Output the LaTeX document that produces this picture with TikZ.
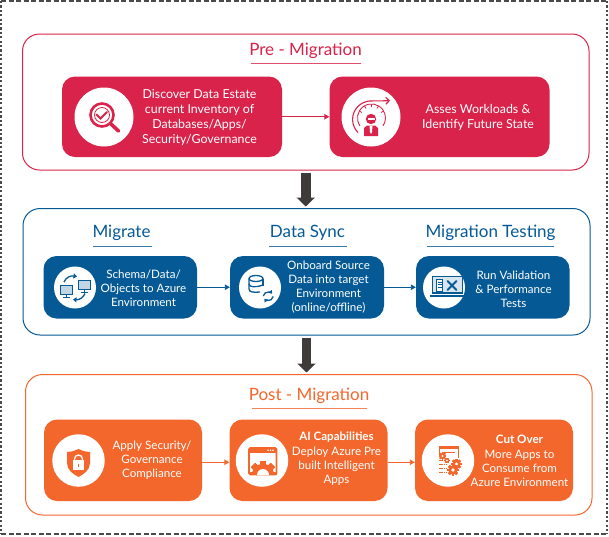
\documentclass[tikz,border=0pt]{standalone}
\usepackage{fontspec}
\setmainfont{Lato}
\usetikzlibrary{arrows.meta}
\definecolor{redc}{HTML}{D9234A}
\definecolor{bluec}{HTML}{055A96}
\definecolor{orangec}{HTML}{F4672C}
\definecolor{arrowc}{HTML}{403B3B}
\definecolor{dashc}{HTML}{4A4A4A}
\tikzset{
  stage/.style={draw=#1,line width=1pt,rounded corners=17pt,fill=white,inner sep=0pt},
  card/.style={fill=#1,rounded corners=13pt,inner sep=0pt},
  dot/.style={circle,fill=white,inner sep=0pt},
  cardtext/.style={text=white,align=center,inner sep=0pt,font=\fontsize{11.6}{14}\selectfont},
  heading/.style={text=#1,inner sep=0pt,font=\fontsize{17}{20}\selectfont},
  underl/.style={draw=#1!80,line width=1pt},
  link/.style={draw=#1,line width=0.9pt,-{Triangle[width=5.5pt,length=5pt]}},
  bigarrow/.style={draw=arrowc,line width=9.5pt,-{Triangle[width=18pt,length=9pt]},shorten <=2pt,shorten >=1.5pt},
}
\newcommand{\gearicon}[4]{%
  \foreach \a in {0,45,...,315}{\fill[#4,rotate around={\a:(#1,#2)}] (#1-#3*0.22,#2-#3) rectangle (#1+#3*0.22,#2+#3);}
  \fill[#4] (#1,#2) circle[radius=#3*0.8];
  \fill[white] (#1,#2) circle[radius=#3*0.32];
}
\begin{document}
\begin{tikzpicture}[x=1pt,y=-1pt]
\useasboundingbox (0,0) rectangle (609,536);

%outer dashed frame
\draw[dashc,line width=1.3pt,dash pattern=on 5pt off 2.5pt] (1,1) -- (607,1);
\draw[dashc,line width=1.3pt,dash pattern=on 5pt off 2.5pt] (1,534) -- (607,534);
\draw[dashc,line width=1.3pt,dash pattern=on 2.2pt off 2.2pt] (1,1) -- (1,534);
\draw[dashc,line width=1.3pt,dash pattern=on 2.2pt off 2.2pt] (607,1) -- (607,534);

%stage frames
\node[stage=redc,minimum width=566.5pt,minimum height=136pt] (pre) at (305.75,102) {};
\node[stage=bluec,minimum width=567pt,minimum height=126.5pt] (migrate) at (306.5,271.75) {};
\node[stage=orangec,minimum width=566.5pt,minimum height=140.5pt] (post) at (308.75,444.75) {};

%arrows between the stages
\draw[bigarrow] (pre.south) -- (pre.south |- migrate.north);
\draw[bigarrow] (migrate.south) -- (migrate.south |- post.north);

%Pre - Migration
\node[heading=redc] (preTitle) at (305.5,50.5) {Pre - Migration};
\draw[underl=redc] (251,63.5) -- (361,63.5);
\node[card=redc,minimum width=220pt,minimum height=80.5pt] (discover) at (172,116.75) {};
\node[card=redc,minimum width=220pt,minimum height=80.5pt] (assess) at (439.5,116.75) {};
\draw[link=redc] (discover) -- (assess);
\node[dot,minimum size=59pt] (discoverDot) at (104,117) {};
\node[dot,minimum size=59pt] (assessDot) at (371,117) {};
\node[cardtext,font=\fontsize{12.4}{15}\selectfont] (discoverText) at (199.5,117.5) {Discover Data Estate\\current Inventory of\\Databases/Apps/\\Security/Governance};
\node[cardtext,font=\fontsize{12.4}{15}\selectfont] (assessText) at (478,117.5) {Asses Workloads \&\\Identify Future State};
%magnifier
\draw[redc,line width=2.6pt] (102,115) circle[radius=11.5];
\draw[redc,line width=0.8pt] (102,115) circle[radius=7.5];
\draw[redc,line width=2pt,line cap=round] (96.5,114.5) -- (100.5,118.5) -- (107,112);
\draw[redc,line width=3.6pt,line cap=round] (111,124) -- (118.5,131);
%gauge and person
\draw[redc,line width=0.9pt] (360,126) arc (145:395:14);
\draw[redc,line width=1.1pt,-{Straight Barb[length=3.5pt,width=7pt]}] (358,132.5) arc (135:265:18.5) -- (390,100.7);
\foreach \a in {-150,-120,-90,-60,-30}{\draw[redc,line width=0.8pt] (371.5,118)++(\a:14) -- ++(\a:-3);}
\fill[redc] (371,119) circle[radius=5.2];
\fill[white] (367.5,118) rectangle (374.5,119.5);
\fill[redc] (364,136) -- (364,128) -- (367,125.5) -- (375,125.5) -- (378,128) -- (378,136) -- cycle;
\fill[white] (369.5,125.5) -- (372.5,125.5) -- (372,132) -- (371,134) -- (370,132) -- cycle;

%Migrate, Data Sync, Migration Testing
\node[heading=bluec] (migTitle) at (121.5,232.5) {Migrate};
\node[heading=bluec] (syncTitle) at (307.5,232.5) {Data Sync};
\node[heading=bluec] (testTitle) at (490.5,232.5) {Migration Testing};
\draw[underl=bluec] (93,246) -- (152,246);
\draw[underl=bluec] (269,246) -- (347,246);
\draw[underl=bluec] (427,246) -- (554,246);
\node[card=bluec,minimum width=153.5pt,minimum height=62.5pt] (schema) at (120.25,287.25) {};
\node[card=bluec,minimum width=154pt,minimum height=62.5pt] (onboard) at (307,287.25) {};
\node[card=bluec,minimum width=153.5pt,minimum height=62.5pt] (validate) at (492.75,287.25) {};
\draw[link=bluec] (schema) -- (onboard);
\draw[link=bluec] (onboard) -- (validate);
\node[dot,minimum size=42pt] (schemaDot) at (75,287.5) {};
\node[dot,minimum size=42pt] (onboardDot) at (260,287.5) {};
\node[dot,minimum size=42pt] (validateDot) at (444,287.5) {};
\node[cardtext] (schemaText) at (143.5,288.5) {Schema/Data/\\Objects to Azure\\Environment};
\node[cardtext] (onboardText) at (328.5,287.5) {Onboard Source\\Data into target\\Environment\\(online/offline)};
\node[cardtext] (validateText) at (513.5,289.5) {Run Validation\\\& Performance\\Tests};
%two monitors
\draw[bluec,fill=bluec!25,line width=0.8pt] (60,285) rectangle (72.5,294);
\draw[bluec,fill=bluec!25,line width=0.8pt] (78,280) rectangle (90,289);
\draw[bluec,line width=1pt] (66,294) -- (66,297) (62.5,297.5) -- (70,297.5);
\draw[bluec,line width=1pt] (84,289) -- (84,291.5) (80.5,292) -- (87.5,292);
\draw[bluec,line width=1.3pt,-{Triangle[width=5pt,length=3.5pt]}] (64,282) .. controls (66,277) and (71,275.5) .. (77,276.5);
\draw[bluec,line width=1.3pt,-{Triangle[width=5pt,length=3.5pt]}] (85,293.5) .. controls (83,298) and (79,300) .. (73,299.5);
%database
\draw[bluec,line width=1.3pt] (256,278.5) ellipse[x radius=7,y radius=3];
\draw[bluec,line width=1.3pt] (263,278.5) -- (263,286);
\draw[bluec,line width=1.3pt] (249,278.5) -- (249,289) .. controls (249,292.5) and (254,292.5) .. (260,292);
\draw[bluec,line width=1.3pt] (249,284) .. controls (249,287.5) and (256,287.5) .. (263,285);
\draw[bluec,line width=1.3pt,-{Triangle[width=4.5pt,length=3pt]}] (263.3,296) arc (190:320:5);
\draw[bluec,line width=1.3pt,-{Triangle[width=4.5pt,length=3pt]}] (273.2,296.5) arc (10:140:5);
%laptop with tools
\draw[bluec,fill=bluec!15,line width=1.1pt] (432.5,276.5) rectangle (462.5,293);
\fill[bluec] (430,294.5) rectangle (464,296.5);
\draw[bluec,fill=white,line width=0.6pt] (436.5,279) rectangle (442.5,291);
\foreach \b in {282,284.5,287}{\draw[bluec,line width=0.5pt] (437.5,\b) -- (441.5,\b);}
\draw[bluec,line width=2pt,line cap=round] (447.5,281) -- (456.5,290);
\draw[bluec,line width=2pt,line cap=round] (456.5,281) -- (447.5,290);

%Post - Migration
\node[heading=orangec] (postTitle) at (309,395.5) {Post - Migration};
\draw[underl=orangec] (252,408.5) -- (367,408.5);
\node[card=orangec,minimum width=158pt,minimum height=81.5pt] (apply) at (123,460.25) {};
\node[card=orangec,minimum width=158pt,minimum height=81.5pt] (deploy) at (308.5,460.25) {};
\node[card=orangec,minimum width=158pt,minimum height=81.5pt] (cutover) at (494,460.25) {};
\draw[link=orangec] ([yshift=-2pt]apply.east) -- ([yshift=-2pt]deploy.west);
\draw[link=orangec] ([yshift=-2pt]deploy.east) -- ([yshift=-2pt]cutover.west);
\node[dot,minimum size=52.5pt] (applyDot) at (78.5,460.5) {};
\node[dot,minimum size=52.5pt] (deployDot) at (262,460.5) {};
\node[dot,minimum size=52.5pt] (cutoverDot) at (448,460.5) {};
\node[cardtext] (applyText) at (152,460.5) {Apply Security/\\Governance\\Compliance};
\node[cardtext] (deployText) at (336.5,459) {\textbf{AI Capabilities}\\[1pt]Deploy Azure Pre\\built Intelligent\\Apps};
\node[cardtext] (cutoverText) at (519.5,460.5) {\textbf{Cut Over}\\[1pt]More Apps to\\Consume from\\Azure Environment};
%shield
\fill[orangec] (78.5,449) .. controls (73,451.5) and (70,452) .. (67,452) -- (67,463) .. controls (67,470) and (73,474) .. (78.5,477) .. controls (84,474) and (90,470) .. (90,463) -- (90,452) .. controls (87,452) and (84,451.5) .. (78.5,449) -- cycle;
\draw[white,line width=1.3pt] (74.5,461) -- (74.5,459) arc (180:360:4) -- (82.5,461);
\fill[white] (73,460) rectangle (84,469.5);
\fill[orangec] (78,463.5) rectangle (79.2,467);
%window with gear
\draw[orangec,line width=1.8pt,rounded corners=1.5pt] (249,448) rectangle (276.5,474.5);
\fill[orangec] (249,448) rectangle (276.5,452.5);
\foreach \b in {268,270.5,273}{\fill[white] (\b,450.2) circle[radius=0.8];}
\begin{scope}
\clip (249,448) rectangle (277,474);
\gearicon{263}{475}{14}{orangec}
\fill[white] (263,475) circle[radius=6];
\end{scope}
%document with gears
\draw[orangec,line width=1pt] (439,457) -- (439,446.5) -- (458,446.5) -- (458,458);
\fill[orangec] (439,446.5) rectangle (458,449);
\draw[orangec,line width=1pt] (442,452.5) -- (455,452.5);
\foreach \b in {460,464,468,472}{\draw[orangec,line width=1pt,dash pattern=on 1.5pt off 0.8pt] (439,\b) -- (447,\b);}
\gearicon{442.5}{456}{3.8}{orangec}
\gearicon{447}{460.5}{2.6}{orangec}
\gearicon{456.5}{464}{5.2}{orangec}
\gearicon{453}{470}{5.8}{orangec}
\end{tikzpicture}
\end{document}
